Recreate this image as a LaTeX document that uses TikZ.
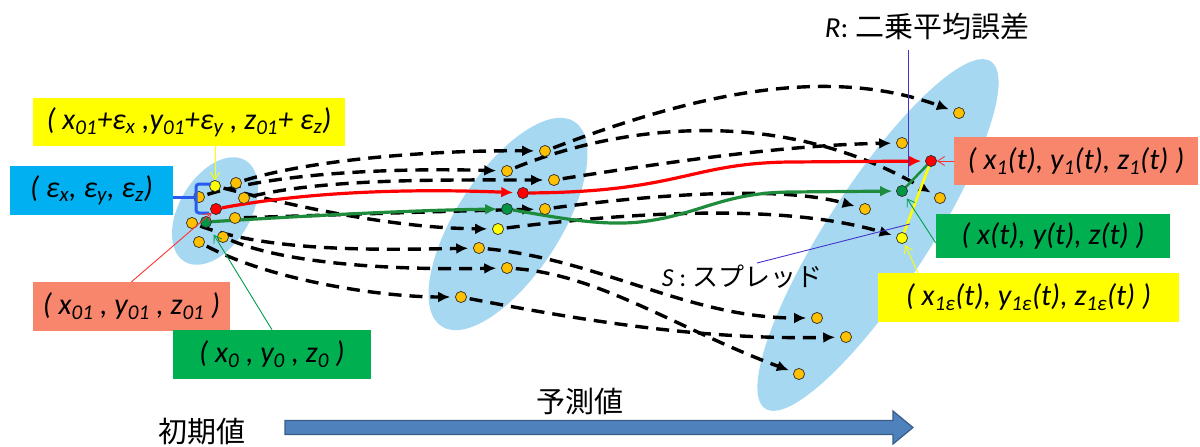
\documentclass[tikz,border=0pt]{standalone}
\usepackage{fontspec}
\setmainfont{Carlito}
\newfontfamily\jpf{Noto Sans CJK JP}
\usetikzlibrary{arrows.meta,calc}
\definecolor{ellc}{RGB}{166,216,242}
\definecolor{dotor}{RGB}{255,192,0}
\definecolor{ylw}{RGB}{255,255,0}
\definecolor{cyanb}{RGB}{0,176,240}
\definecolor{salm}{RGB}{248,134,108}
\definecolor{grnb}{RGB}{0,176,80}
\definecolor{grnl}{RGB}{30,140,60}
\definecolor{grnd}{RGB}{0,150,70}
\definecolor{redl}{RGB}{255,0,0}
\definecolor{brk}{RGB}{40,90,240}
\definecolor{purp}{RGB}{70,50,200}
\definecolor{arrf}{RGB}{79,129,189}
\definecolor{arrd}{RGB}{56,93,138}
\newcommand\sbx[1]{\textsubscript{#1}}
\begin{document}
\begin{tikzpicture}[x=1pt,y=-1pt,
  dot/.style={circle,draw=black!80,line width=0.6pt,inner sep=0pt,minimum size=11pt,fill=dotor},
  traj/.style={line width=3.4pt,dash pattern=on 13pt off 8pt,-{Latex[length=12pt,width=11pt]},shorten >=5pt,shorten <=3pt},
  mainl/.style={line width=3.2pt,-{Latex[length=12pt,width=11pt]},shorten >=4pt},
  box/.style={rectangle,inner sep=0pt,font=\fontsize{30}{32}\selectfont\itshape},
  ptr/.style={line width=0.9pt,-{Straight Barb[length=7pt,width=9pt]}},
  lab/.style={font=\fontsize{29}{32}\selectfont}]
\useasboundingbox (0,0) rectangle (1200,447);
% ellipses
\fill[ellc, rotate around={59:(215,211)}] (215,211) ellipse (59 and 35.5);
\fill[ellc, rotate around={57:(508,224)}] (508,224) ellipse (122 and 52);
\fill[ellc, rotate around={57:(878,235)}] (878,235) ellipse (207 and 51);
% dots: left
\node[dot,fill=ylw] (La) at (215,186) {};
\node[dot] (Lb) at (236,183) {};
\node[dot] (Lc) at (199,197) {};
\node[dot] (Ld) at (244,198) {};
\node[dot,fill=redl] (Lr) at (216,209) {};
\node[dot] (Le) at (192,223) {};
\node[dot,fill=grnd] (Lg) at (206,222) {};
\node[dot] (Lf) at (235,218) {};
\node[dot] (Lh) at (199,242) {};
\node[dot] (Li) at (223,237) {};
% middle
\node[dot] (Ma) at (545,151) {};
\node[dot] (Mb) at (507,171) {};
\node[dot] (Mc) at (554,180) {};
\node[dot,fill=redl] (Mr) at (523,193) {};
\node[dot,fill=grnd] (Mg) at (507,209) {};
\node[dot] (Md) at (545,209) {};
\node[dot,fill=ylw] (My) at (498,229) {};
\node[dot] (Me) at (479,248) {};
\node[dot] (Mf) at (507,268) {};
\node[dot] (Mh) at (461,297) {};
% right
\node[dot] (Ra) at (959,113) {};
\node[dot] (Rb) at (902,143) {};
\node[dot,fill=redl] (Rr) at (931,161) {};
\node[dot,fill=grnd] (Rg) at (902,191) {};
\node[dot] (Rc) at (940,198) {};
\node[dot] (Rd) at (865,209) {};
\node[dot,fill=ylw] (Ry) at (902,238) {};
\node[dot] (Re) at (817,318) {};
\node[dot] (Rf) at (846,337) {};
\node[dot] (Rh) at (799,374) {};
% dashed trajectories left -> middle
\draw[traj] (Lb) .. controls (310,160) and (430,150) .. (Ma);
\draw[traj] (Lc) .. controls (280,172) and (400,168) .. (Mb);
\draw[traj] (Ld) .. controls (330,178) and (450,180) .. (Mc);
\draw[traj] (La) .. controls (290,205) and (390,228) .. (My);
\draw[traj] (Lf) .. controls (330,215) and (450,211) .. (Md);
\draw[traj] (Le) .. controls (270,252) and (380,250) .. (Me);
\draw[traj] (Li) .. controls (290,265) and (400,270) .. (Mf);
\draw[traj] (Lh) .. controls (270,280) and (380,297) .. (Mh);
% dashed trajectories middle -> right
\draw[traj] (Ma) .. controls (680,100) and (820,62) .. (Ra);
\draw[traj] (Mb) .. controls (620,125) and (780,105) .. (Rc);
\draw[traj] (Mc) .. controls (650,165) and (780,145) .. (Rb);
\draw[traj] (Md) .. controls (650,195) and (780,185) .. (Rd);
\draw[traj] (My) .. controls (650,210) and (790,205) .. (Ry);
\draw[traj] (Me) .. controls (600,260) and (690,318) .. (Re);
\draw[traj] (Mf) .. controls (600,275) and (680,330) .. (Rh);
\draw[traj] (Mh) .. controls (580,320) and (700,340) .. (Rf);
% red and green main trajectories
\draw[mainl,redl] (Lr) .. controls (300,193) and (400,188) .. (Mr);
\draw[mainl,redl] (Mr) .. controls (680,192) and (690,163) .. (790,162) -- (Rr);
\draw[mainl,grnl] (Lg) .. controls (320,215) and (420,210) .. (Mg);
\draw[mainl,grnl] (Mg) .. controls (560,218) and (600,226) .. (640,222) .. controls (700,215) and (720,193) .. (790,192) -- (Rg);
% R / S connections
\draw[line width=2.5pt,grnl] (Rg) -- (Rr);
\draw[line width=2.5pt,ylw] (Rr) -- (Ry);
% redraw dots on top
\foreach \n/\c in {La/ylw,Lb/dotor,Lc/dotor,Ld/dotor,Lr/redl,Le/dotor,Lg/grnd,Lf/dotor,Lh/dotor,Li/dotor,
  Ma/dotor,Mb/dotor,Mc/dotor,Mr/redl,Mg/grnd,Md/dotor,My/ylw,Me/dotor,Mf/dotor,Mh/dotor,
  Ra/dotor,Rb/dotor,Rr/redl,Rg/grnd,Rc/dotor,Rd/dotor,Ry/ylw,Re/dotor,Rf/dotor,Rh/dotor}
  \filldraw[fill=\c,draw=black!80,line width=0.6pt] (\n.center) circle (5.5);
% labels / boxes
\node[box,fill=ylw,minimum width=312pt,minimum height=48pt] (bY) at (189,122)
  {( x\sbx{01}+ε\sbx{x} ,y\sbx{01}+ε\sbx{y} , z\sbx{01}+ ε\sbx{z})};
\node[box,fill=cyanb,minimum width=163pt,minimum height=49pt] (bC) at (91.5,190.5)
  {( ε\sbx{x}, ε\sbx{y}, ε\sbx{z})};
\node[box,fill=salm,minimum width=197pt,minimum height=49pt] (bS) at (131.5,306.5)
  {( x\sbx{01} , y\sbx{01} , z\sbx{01} )};
\node[box,fill=grnb,minimum width=198pt,minimum height=49pt] (bG) at (272,354.5)
  {( x\sbx{0} , y\sbx{0} , z\sbx{0} )};
\node[box,fill=salm,minimum width=244pt,minimum height=48pt] (bS2) at (1076,161)
  {( x\sbx{1}(t), y\sbx{1}(t), z\sbx{1}(t) )};
\node[box,fill=grnb,minimum width=234pt,minimum height=44pt] (bG2) at (1053,236)
  {( x(t), y(t), z(t) )};
\node[box,fill=ylw,minimum width=301pt,minimum height=49pt] (bY2) at (1028.5,297.5)
  {( x\sbx{1ε}(t), y\sbx{1ε}(t), z\sbx{1ε}(t) )};
% bracket
\coordinate (bk) at (196,197);
\draw[brk,line width=3pt,rounded corners=2pt] (bC.east |- bk) -- (bk);
\draw[brk,line width=3pt,rounded corners=3pt] (211,184) -- (196,184) -- (196,213) -- (209,213);
% pointers
\draw[ptr,ylw] (bY.south -| La) -- (La);
\draw[ptr,redl!80] (bS.north) -- (Lr);
\draw[ptr,grnb!90!black,shorten >=9pt] (bG.north) -- (Lg);
\draw[ptr,redl!80] (bS2.west) -- (Rr);
\draw[ptr,grnb!90!black,shorten >=3pt] ($(bG2.west)+(0,7)$) -- (Rg);
\draw[ptr,ylw,shorten >=2pt] ($(bY2.north west)+(40,0)$) -- (Ry);
% R and S labels
\node[lab] (Rl) at (927,26) {{\itshape R}: {\jpf 二乗平均誤差}};
\coordinate (Rt) at (908,50);
\coordinate (Rb2) at (908,177);
\draw[purp,line width=0.9pt] (Rt) -- (Rb2);
\node[font=\fontsize{26}{28}\selectfont] (Sl) at (742,277) {{\itshape S} : {\jpf スプレッド}};
\coordinate (Sp) at (757,263);
\coordinate (Sq) at (910,224);
\draw[purp,line width=0.9pt] (Sp) -- (Sq);
% bottom axis
\node[lab] (init) at (202,432) {\jpf 初期値};
\node[lab] (pred) at (580,402) {\jpf 予測値};
\coordinate (At) at (913,427.5);
\draw[arrd,fill=arrf,line width=1.2pt] (285,420.5) -- (893,420.5) -- (893,411) -- (At) -- (893,444) -- (893,434.5) -- (285,434.5) -- cycle;
\end{tikzpicture}
\end{document}
